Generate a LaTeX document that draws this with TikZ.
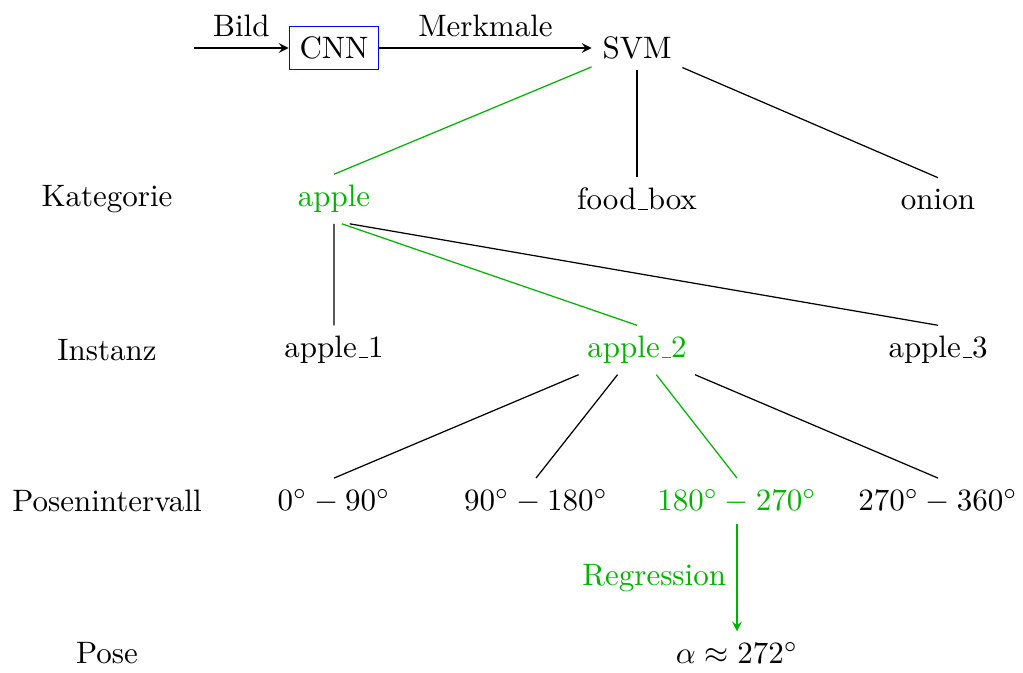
\documentclass[tikz,border=0pt]{standalone}
\usetikzlibrary{arrows,calc}
\definecolor{pathgreen}{RGB}{0,178,0}
\newcommand\usc{\leavevmode\kern.06em\vbox{\hrule width.3em}}
\begin{document}
\begin{tikzpicture}[x=0.3226pt,y=-0.3226pt,
  lbl/.style={anchor=center},
  tn/.style={anchor=center},
  hl/.style={text=pathgreen},
  hledge/.style={draw=pathgreen},
  box/.style={draw=blue},
  arr/.style={-stealth},
  every node/.style={inner sep=3.33pt}]
\useasboundingbox (0,0) rectangle (1023,673);
% row labels
\node[lbl] (lkat) at (107,199) {Kategorie};
\node[lbl] (lins) at (107,350) {Instanz};
\node[lbl] (lpos) at (107,501) {Posenintervall};
\node[lbl] (lpose) at (107,653) {Pose};
% pipeline
\coordinate (start) at (194,48);
\node[box] (cnn) at (334,48) {CNN};
\node[tn] (svm) at (637,48) {SVM};
\draw[arr] (start) -- node[above] {Bild} (cnn.west);
\draw[arr] (cnn.east) -- node[above] {Merkmale} (svm.west);
% categories
\node[tn,hl] (apple) at (334,199) {apple};
\node[tn] (foodbox) at (637,199) {food\usc box};
\node[tn] (onion) at (938,199) {onion};
% instances
\node[tn] (apple1) at (334,350) {apple\usc 1};
\node[tn,hl] (apple2) at (637,350) {apple\usc 2};
\node[tn] (apple3) at (938,350) {apple\usc 3};
% intervals
\node[tn] (i1) at (334,501) {$0^\circ - 90^\circ$};
\node[tn] (i2) at (536,501) {$90^\circ - 180^\circ$};
\node[tn,hl] (i3) at (737,501) {$180^\circ - 270^\circ$};
\node[tn] (i4) at (938,501) {$270^\circ - 360^\circ$};
% pose
\node[tn] (pose) at (737,653) {$\alpha \approx 272^\circ$};
% edges
\draw[hledge] (svm) -- (apple.north);
\draw (svm) -- (foodbox.north);
\draw (svm) -- (onion.north);
\coordinate (ap) at ([yshift=0.84pt]apple.south);
\draw ($(ap)!0.026!(apple1.north)$) -- (apple1.north);
\draw[hledge] ($(ap)!0.026!(apple2.north)$) -- (apple2.north);
\draw ($(ap)!0.026!(apple3.north)$) -- (apple3.north);
\draw (apple2) -- (i1.north);
\draw (apple2) -- (i2.north);
\draw[hledge] (apple2) -- (i3.north);
\draw (apple2) -- (i4.north);
\draw[arr,hledge] (i3) -- node[left,hl] {Regression} (pose);
\end{tikzpicture}
\end{document}
